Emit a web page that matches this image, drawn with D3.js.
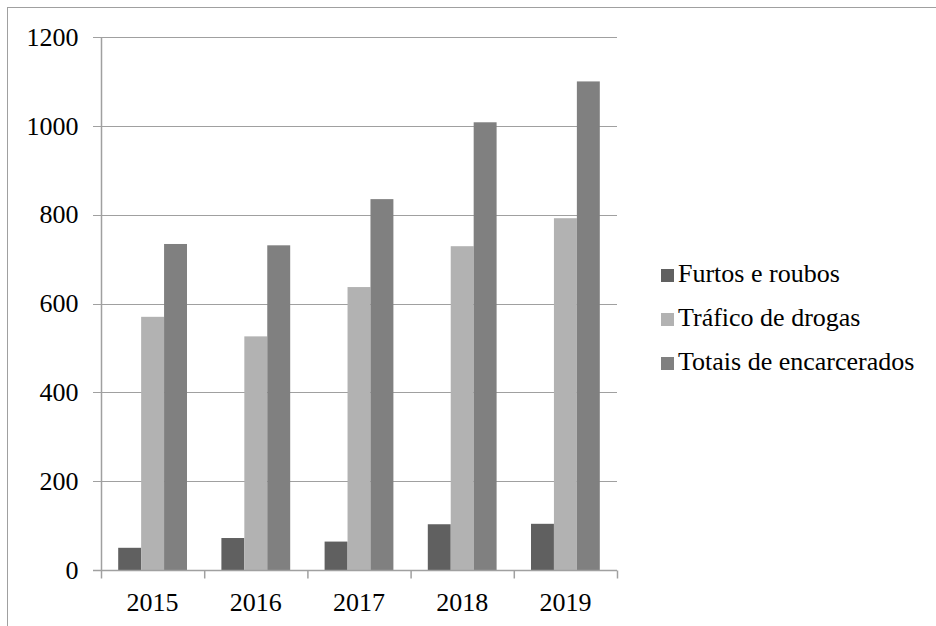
<!DOCTYPE html>
<html>
<head>
<meta charset="utf-8">
<script src="https://cdn.jsdelivr.net/npm/d3@7"></script>
<style>
  html, body { margin: 0; padding: 0; background: #fff; }
  svg { display: block; }
</style>
</head>
<body>
<svg id="chart" width="936" height="626"></svg>
<script>
const categories = ["2015", "2016", "2017", "2018", "2019"];
const seriesNames = ["Furtos e roubos", "Tráfico de drogas", "Totais de encarcerados"];
const furtos = [50, 72, 64, 103, 104];
const trafico = [570, 526, 637, 729, 792];
const totais = [734, 731, 835, 1008, 1100];
const yTicks = [0, 200, 400, 600, 800, 1000, 1200];
const colors = ["#606060", "#b2b2b2", "#808080"];

const seriesValues = [furtos, trafico, totais];
const FONT = "'Liberation Serif', Tinos, 'Times New Roman', Times, 'DejaVu Serif', serif";

const svg = d3.select("#chart");
const plotLeft = 101, plotRight = 617, plotTop = 37, plotBottom = 570;

// outer frame
svg.append("rect").attr("x", 7.5).attr("y", 7.5).attr("width", 1000).attr("height", 1000)
  .attr("fill", "#fff").attr("stroke", "#a0a0a0").attr("stroke-width", 1);

const x0 = d3.scaleBand().domain(categories).range([plotLeft, plotRight]).paddingInner(0).paddingOuter(0);
const x1 = d3.scaleBand().domain(d3.range(seriesNames.length)).range([0, x0.bandwidth()])
  .paddingInner(0).paddingOuter(0.75);
const y = d3.scaleLinear().domain([0, 1200]).range([plotBottom, plotTop]);

// gridlines
svg.append("g").selectAll("line").data(yTicks).join("line")
  .attr("x1", plotLeft - 8).attr("x2", plotRight)
  .attr("y1", d => Math.round(y(d)) + 0.5).attr("y2", d => Math.round(y(d)) + 0.5)
  .attr("stroke", "#a0a0a0").attr("stroke-width", 1.2);

// bars
const groups = svg.append("g").selectAll("g").data(categories).join("g")
  .attr("transform", d => `translate(${x0(d)},0)`);
groups.selectAll("rect").data((c, ci) => seriesValues.map((vals, si) => ({si, v: vals[ci]})))
  .join("rect")
  .attr("x", d => x1(d.si))
  .attr("width", x1.bandwidth())
  .attr("y", d => y(d.v))
  .attr("height", d => y(0) - y(d.v))
  .attr("fill", d => colors[d.si]);

// y axis
const yAxis = d3.axisLeft(y).tickValues(yTicks).tickSize(8).tickPadding(15).tickFormat(d3.format("d"));
const gy = svg.append("g").attr("transform", `translate(${plotLeft + 0.5},0)`).call(yAxis)
  .attr("font-family", FONT).attr("font-size", 26);
gy.select(".domain").attr("stroke", "#a0a0a0").attr("stroke-width", 1.5).attr("d", `M0,${plotTop}V${plotBottom}`);
gy.selectAll(".tick line").remove();
gy.selectAll("text").attr("fill", "#000").style("font-family", FONT).style("font-size", "26px");

// x axis
const gx = svg.append("g").attr("transform", `translate(0,${plotBottom + 0.5})`);
gx.append("line").attr("x1", plotLeft - 8).attr("x2", plotRight).attr("y1", 0).attr("y2", 0)
  .attr("stroke", "#a0a0a0").attr("stroke-width", 1.5);
const xTickPos = categories.map(c => x0(c)).concat([plotRight]);
gx.selectAll("line.t").data(xTickPos).join("line").attr("class", "t")
  .attr("x1", d => d + 0.5).attr("x2", d => d + 0.5).attr("y1", 0).attr("y2", 8)
  .attr("stroke", "#a0a0a0").attr("stroke-width", 1.5);
gx.selectAll("text").data(categories).join("text")
  .attr("x", d => x0(d) + x0.bandwidth() / 2).attr("y", 40)
  .attr("text-anchor", "middle").style("font-family", FONT).style("font-size", "26px").text(d => d);

// legend
const legend = svg.append("g").attr("transform", "translate(661,0)");
const legY = [282, 326, 370];
seriesNames.forEach((name, i) => {
  legend.append("rect").attr("x", 0).attr("y", legY[i] - 13).attr("width", 13).attr("height", 13)
    .attr("fill", colors[i]);
  legend.append("text").attr("x", 17).attr("y", legY[i])
    .style("font-family", FONT).style("font-size", "26px").text(name);
});
</script>
</body>
</html>
